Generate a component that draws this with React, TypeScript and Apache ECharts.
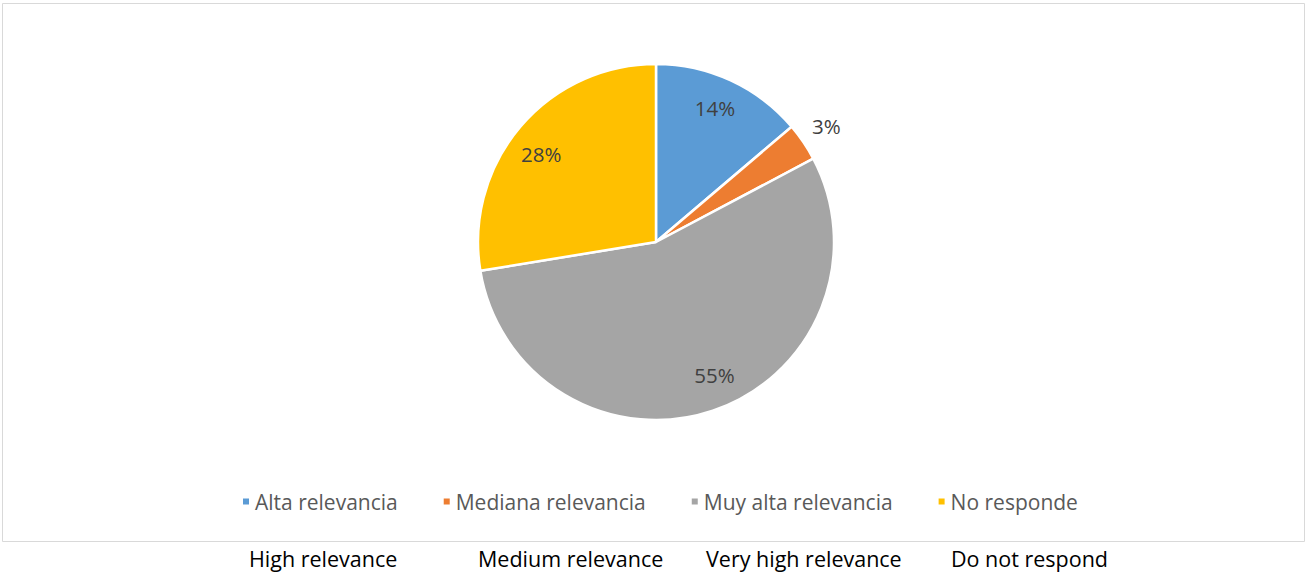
import React, { useEffect, useRef } from "react";
import * as echarts from "echarts";

const categories = ["Alta relevancia", "Mediana relevancia", "Muy alta relevancia", "No responde"];
const counts = [4, 1, 16, 8];
const colors = ["#5B9BD5", "#ED7D31", "#A5A5A5", "#FFC000"];
const englishLabels = ["High relevance", "Medium relevance", "Very high relevance", "Do not respond"];
const outsideLabelIndex = [1];

export default function App() {
  const ref = useRef<HTMLDivElement>(null);
  useEffect(() => {
    if (!ref.current) return;
    const chart = echarts.init(ref.current, undefined, { renderer: "svg" });
    const font = "'Open Sans', 'Noto Sans', sans-serif";
    const R = 178;
    const center = [656, 242];
    const labelStyle = {
      color: "#404040",
      fontSize: 20.5,
      fontFamily: font,
      formatter: "{d}%",
    };
    const labelOffsets = [[-2, -2], [0, 0], [12, -5], [-4, 6]];
    const mainData = categories.map((n, i) => ({ name: n, value: counts[i], itemStyle: { color: colors[i] } }));
    const innerLabelData = categories.map((n, i) => ({
      name: n,
      value: counts[i],
      label: { show: !outsideLabelIndex.includes(i), offset: labelOffsets[i] },
    }));
    const outerLabelData = categories.map((n, i) => ({
      name: n,
      value: counts[i],
      label: { show: outsideLabelIndex.includes(i), offset: labelOffsets[i] },
    }));
    const enX = [249, 478, 706, 951];
    chart.setOption({
      animation: false,
      legend: {
        data: categories,
        top: 491,
        left: 241,
        padding: 0,
        icon: "rect",
        itemWidth: 8,
        itemHeight: 8,
        itemGap: 44,
        textStyle: { color: "#595959", fontSize: 21, fontFamily: font },
        selectedMode: false,
      },
      graphic: [
        {
          type: "rect",
          shape: { x: 2.5, y: 3.5, width: 1302, height: 538 },
          style: { fill: "none", stroke: "#D9D9D9", lineWidth: 1 },
          z: -10,
        },
        ...englishLabels.map((t, i) => ({
          type: "text",
          left: enX[i],
          top: 547,
          style: { text: t, fill: "#000", fontSize: 21.5, fontFamily: font },
        })),
      ],
      series: [
        {
          type: "pie",
          center,
          radius: [0, R],
          startAngle: 90,
          data: mainData,
          label: { show: false },
          labelLine: { show: false },
          itemStyle: { borderColor: "#fff", borderWidth: 2.5 },
          emphasis: { disabled: true },
          silent: true,
        },
        {
          type: "pie",
          center,
          radius: [R * 0.6, R],
          startAngle: 90,
          percentPrecision: 0,
          data: innerLabelData,
          itemStyle: { color: "transparent" },
          label: { ...labelStyle, position: "inside" },
          labelLine: { show: false },
          emphasis: { disabled: true },
          silent: true,
        },
        {
          type: "pie",
          center,
          radius: [R, R * 1.28],
          startAngle: 90,
          percentPrecision: 0,
          data: outerLabelData,
          itemStyle: { color: "transparent" },
          label: { ...labelStyle, position: "inside" },
          labelLine: { show: false },
          emphasis: { disabled: true },
          silent: true,
        },
      ],
    });
    return () => chart.dispose();
  }, []);
  return (
    <div
      ref={ref}
      style={{ position: "absolute", left: 0, top: 0, width: 1307, height: 573, background: "#fff" }}
    />
  );
}
